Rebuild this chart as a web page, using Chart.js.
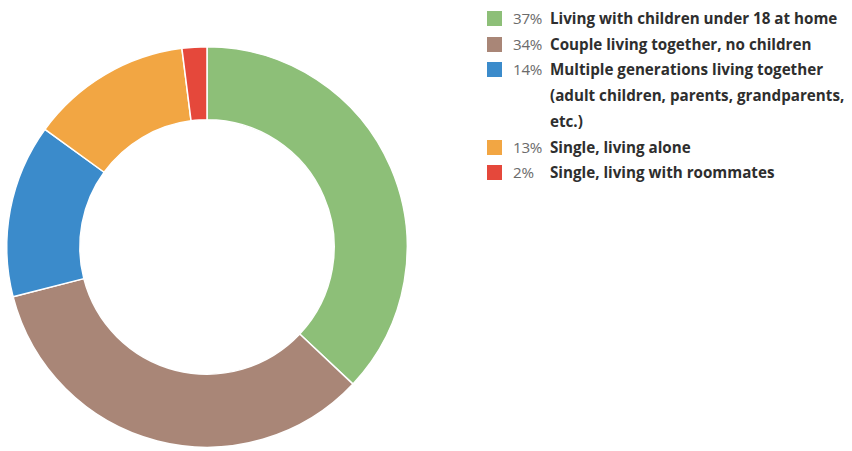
<!DOCTYPE html>
<html>
<head>
<meta charset="utf-8">
<script src="https://cdn.jsdelivr.net/npm/chart.js@4"></script>
<style>
  body { margin: 0; background: #fff; width: 852px; height: 451px; overflow: hidden; font-family: "Open Sans", sans-serif; }
  #chartBox { position: absolute; left: 0; top: 40px; width: 414px; height: 414px; }
  #legend { position: absolute; left: 487px; top: 6px; }
  .row { display: flex; align-items: flex-start; line-height: 25.7px; font-size: 15.2px; }
  .sw { width: 15px; height: 15px; margin-top: 5px; margin-right: 11px; flex: none; }
  .pct { width: 37px; color: #6b6b6b; flex: none; letter-spacing: -0.3px; }
  .lbl { color: #2e2e2e; font-weight: 700; }
</style>
</head>
<body>
<div id="chartBox"><canvas id="donut"></canvas></div>
<div id="legend"></div>
<script>
const categories = [
  ["Living with children under 18 at home"],
  ["Couple living together, no children"],
  ["Multiple generations living together", "(adult children, parents, grandparents,", "etc.)"],
  ["Single, living alone"],
  ["Single, living with roommates"]
];
const shares = [37, 34, 14, 13, 2];
const colors = ["#8dbf78", "#a98677", "#3b8bcb", "#f2a643", "#e5483b"];

new Chart(document.getElementById("donut"), {
  type: "doughnut",
  data: {
    labels: categories.map((c) => c.join(" ")),
    datasets: [{ data: shares, backgroundColor: colors, borderColor: "#ffffff", borderWidth: 1.5 }]
  },
  options: {
    responsive: true,
    maintainAspectRatio: false,
    animation: false,
    cutout: "63.5%",
    layout: { padding: 6 },
    plugins: { legend: { display: false }, tooltip: { enabled: false } }
  }
});

document.getElementById("legend").innerHTML = categories
  .map(
    (c, i) => `
  <div class="row">
    <div class="sw" style="background:${colors[i]}"></div>
    <div class="pct">${shares[i]}%</div>
    <div class="lbl">${c.join("<br>")}</div>
  </div>`
  )
  .join("");
</script>
</body>
</html>
